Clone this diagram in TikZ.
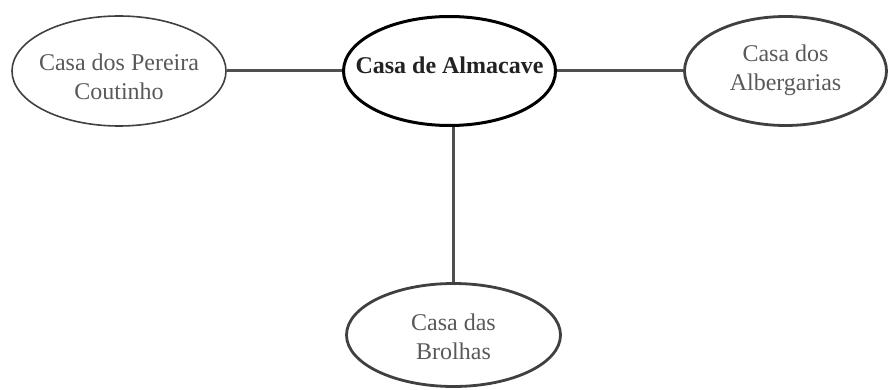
\documentclass[tikz,border=0pt]{standalone}
\usepackage{fontspec}
\setmainfont{Liberation Serif}
\usetikzlibrary{shapes.geometric}
\definecolor{txtgray}{HTML}{595959}
\definecolor{boldtxt}{HTML}{222222}
\definecolor{rimgray}{HTML}{404040}
\definecolor{linkgray}{HTML}{505050}
\newcommand{\lbl}[2][0pt]{\makebox[0pt]{\raisebox{#1}[\height][\depth]{\begin{tabular}{@{}c@{}}#2\end{tabular}}}}
\tikzset{
  house/.style={ellipse, draw=rimgray, line width=2.8pt, inner sep=0pt,
    text=txtgray, font=\fontsize{24}{29.5}\selectfont},
  hub/.style={house, draw=black, line width=3pt, text=boldtxt, font=\fontsize{24}{29.5}\selectfont\bfseries},
  link/.style={draw=linkgray, line width=3pt}
}
\begin{document}
\begin{tikzpicture}[x=1pt,y=-1pt]
\useasboundingbox (0,0) rectangle (890,390);
\node[hub, minimum width=212pt, minimum height=109pt] (hub) at (449.5,71) {\lbl[3pt]{Casa de Almacave}};
\node[house, line width=1.6pt, minimum width=214pt, minimum height=110pt] (pc) at (119,71) {\lbl[-8pt]{Casa dos Pereira\\Coutinho}};
\node[house, minimum width=202pt, minimum height=109pt] (alb) at (785.5,71) {\lbl[1pt]{Casa dos\\Albergarias}};
\node[house, minimum width=214pt, minimum height=103pt] (bro) at (453.5,335) {\lbl[-4pt]{Casa das\\Brolhas}};
\draw[link] (pc.east) -- (hub.west);
\draw[link] (hub.east) -- (alb.west);
\draw[link] (hub.south -| bro.north) -- (bro.north);
\end{tikzpicture}
\end{document}
